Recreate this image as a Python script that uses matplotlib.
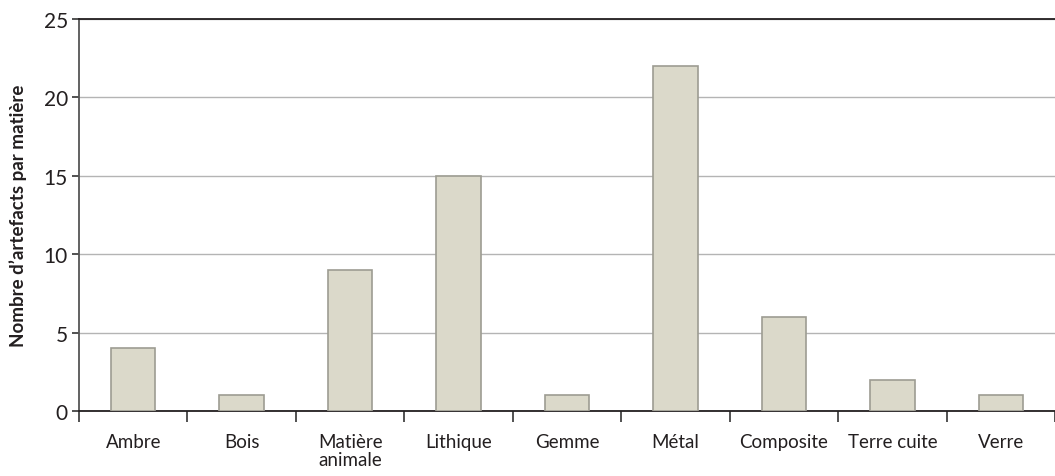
import numpy as np
import matplotlib.pyplot as plt

# Nombre d'artefacts par matière
matieres = ['Ambre', 'Bois', 'Matière\nanimale', 'Lithique', 'Gemme',
            'Métal', 'Composite', 'Terre cuite', 'Verre']
nombres = [4, 1, 9, 15, 1, 22, 6, 2, 1]

plt.rcParams['font.family'] = ['Lato', 'DejaVu Sans']

fig = plt.figure(figsize=(10.55, 4.77), dpi=100)
ax = fig.add_axes([79 / 1055, 65 / 477, 976 / 1055, 392 / 477])

x = np.arange(len(matieres))
ax.bar(x, nombres, width=0.41, color='#dbd9ca', edgecolor='#9d9c92',
       linewidth=1.2, zorder=3)

ax.set_ylim(0, 25)
ax.set_xlim(-0.5, 8.4)
ax.set_yticks(np.arange(0, 26, 5))
ax.yaxis.grid(True, color='#b4b4b4', linewidth=1.0, zorder=0)

# graduations entre les catégories, libellés au centre
ax.set_xticks(np.arange(-0.5, len(matieres), 1.0))
ax.set_xticklabels([])
ax.set_xticks(x, minor=True)
ax.set_xticklabels(matieres, minor=True, fontsize=13.5, color='#231f20',
                   va='top', linespacing=1.05)
ax.tick_params(axis='x', which='major', direction='out', length=8,
               width=1.2, color='#333333')
ax.tick_params(axis='x', which='minor', length=0, pad=16)
ax.tick_params(axis='y', direction='out', length=5, width=1.2,
               color='#333333', labelsize=15, labelcolor='#231f20', pad=3)

for s in ['left', 'bottom', 'top']:
    ax.spines[s].set_color('#231f20')
    ax.spines[s].set_linewidth(1.3)
ax.spines['left'].set_color('#555555')
ax.spines['right'].set_visible(False)

ax.set_ylabel("Nombre d’artefacts par matière", fontsize=13.5,
              fontweight='bold', color='#231f20', labelpad=12)

fig.savefig('out.png', dpi=100)
